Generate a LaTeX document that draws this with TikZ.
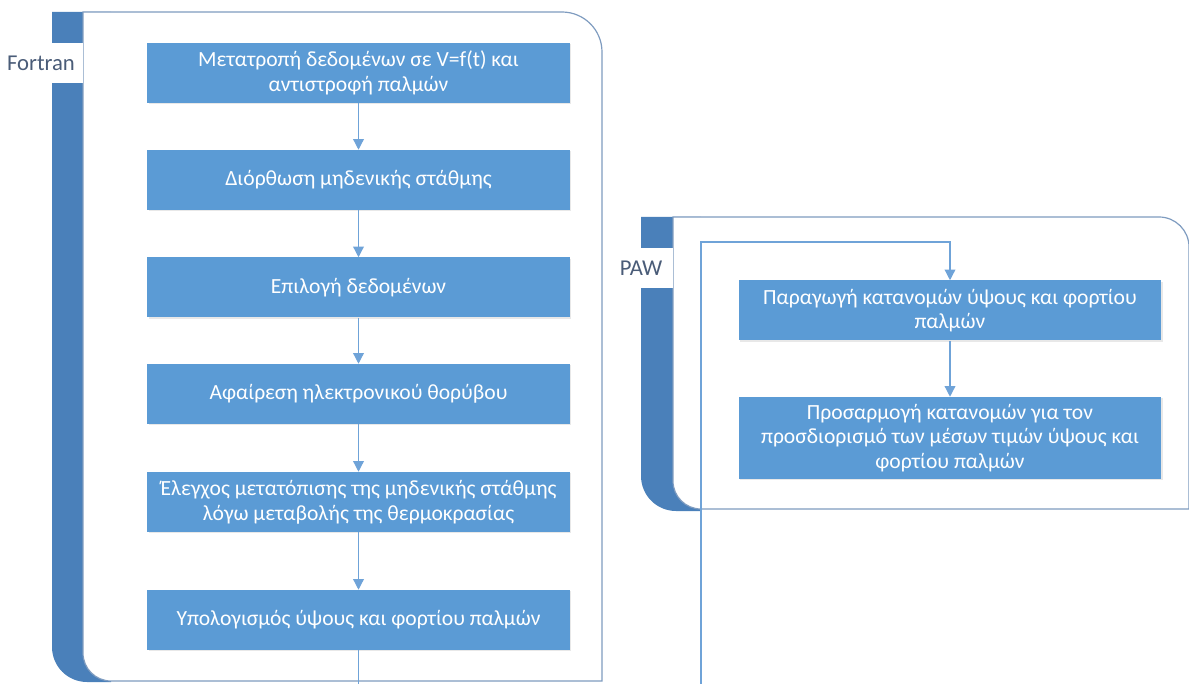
\documentclass[tikz,border=0pt]{standalone}
\usepackage{fontspec}
\setmainfont{Carlito}
\usetikzlibrary{arrows.meta,shadows}
\definecolor{boxblue}{HTML}{5B9BD5}
\definecolor{stripblue}{HTML}{4A80BA}
\definecolor{frameline}{HTML}{7F9CC0}
\definecolor{linkblue}{HTML}{6FA3D8}
\definecolor{labelgray}{HTML}{4A5C78}
\tikzset{
  stepbox/.style={draw=none, fill=boxblue, text=white, align=center,
    minimum width=317pt, minimum height=45pt, inner sep=2pt,
    font=\fontsize{16.2}{18.5}\selectfont,
    drop shadow={opacity=0.18, shadow xshift=1pt, shadow yshift=-1pt}},
  panel/.style={fill=white, draw=frameline, line width=0.9pt},
  strip/.style={fill=stripblue},
  lanelabel/.style={fill=white, text=labelgray, inner sep=1pt,
    font=\fontsize{17}{19}\selectfont},
  link/.style={draw=linkblue, line width=1pt,
    -{Triangle[width=8pt,length=8pt]}}
}
\begin{document}
\begin{tikzpicture}[x=0.75pt,y=-0.75pt]
\useasboundingbox (0,0) rectangle (1189,684);
\clip (0,0) rectangle (1189,684);

% ---- Fortran lane ----
\fill[strip] (52,12) -- (111,12) -- (111,682) -- (87,682)
  arc[start angle=90, end angle=180, radius=35] -- cycle;
\path[panel] (83,12) -- (562,12) arc[start angle=-90, end angle=0, radius=40]
  -- (602,681) -- (111,681) arc[start angle=90, end angle=180, radius=28] -- cycle;
\fill[white] (50,43) rectangle (83,83);
\node[lanelabel] (fortran) at (41,63) {Fortran};

% ---- PAW lane ----
\fill[strip] (641,217) -- (701,217) -- (701,511) -- (676,511)
  arc[start angle=90, end angle=180, radius=35] -- cycle;
\path[panel] (673,217) -- (1159,217) arc[start angle=-90, end angle=0, radius=30]
  -- (1189,509) -- (701,509) arc[start angle=90, end angle=180, radius=28] -- cycle;
\fill[white] (639,248) rectangle (673,288);
\node[lanelabel] (paw) at (641,268) {PAW};

% ---- Fortran steps ----
\node[stepbox] (f1) at (358.5,73) {Μετατροπή δεδομένων σε V=f(t) και\\αντιστροφή παλμών};
\node[stepbox] (f2) at (358.5,180) {Διόρθωση μηδενικής στάθμης};
\node[stepbox] (f3) at (358.5,287.5) {Επιλογή δεδομένων};
\node[stepbox] (f4) at (358.5,394) {Αφαίρεση ηλεκτρονικού θορύβου};
\node[stepbox] (f5) at (358.5,502) {Έλεγχος μετατόπισης της μηδενικής στάθμης\\λόγω μεταβολής της θερμοκρασίας};
\node[stepbox] (f6) at (358.5,620) {Υπολογισμός ύψους και φορτίου παλμών};

% ---- PAW steps ----
\node[stepbox] (p1) at (950,310.5) {Παραγωγή κατανομών ύψους και φορτίου\\παλμών};
\node[stepbox, minimum height=61.5pt] (p2) at (950,438) {Προσαρμογή κατανομών για τον\\προσδιορισμό των μέσων τιμών ύψους και\\φορτίου παλμών};

% ---- connectors ----
\draw[link] (f1) -- (f2);
\draw[link] (f2) -- (f3);
\draw[link] (f3) -- (f4);
\draw[link] (f4) -- (f5);
\draw[link] (f5) -- (f6);
\draw[link] (p1) -- (p2);

\coordinate (down1) at (358.5,720);
\coordinate (down2) at (701,720);
\coordinate (up1) at (701,242);
\coordinate (over1) at (950,242);
\draw[link] (f6.south) -- (down1) -- (down2) -- (up1) -- (over1) -- (p1.north);
\end{tikzpicture}
\end{document}
